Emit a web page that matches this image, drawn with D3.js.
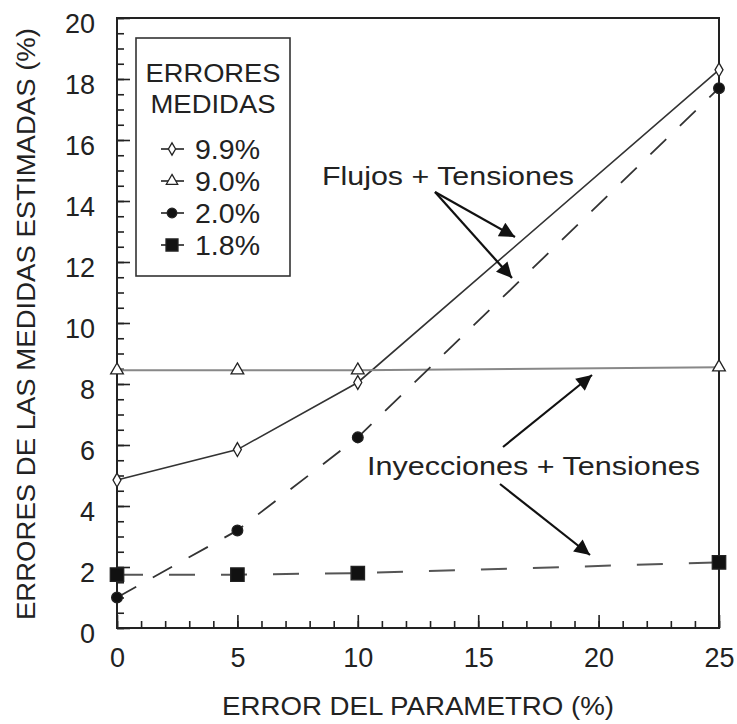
<!DOCTYPE html>
<html>
<head>
<meta charset="utf-8">
<script src="https://cdn.jsdelivr.net/npm/d3@7"></script>
<style>
  body { margin: 0; background: #fff; }
  text { font-family: "Liberation Sans", Arial, Helvetica, sans-serif; fill: #222; }
</style>
</head>
<body>
<script>
// data
const paramError = [0, 5, 10, 25];
const err99 = [4.85, 5.85, 8.05, 18.3];   // 9.9%  Flujos + Tensiones
const err90 = [8.45, 8.45, 8.45, 8.55];   // 9.0%  Inyecciones + Tensiones
const err20 = [1.0, 3.2, 6.25, 17.7];     // 2.0%  Flujos + Tensiones
const err18 = [1.75, 1.75, 1.8, 2.15];    // 1.8%  Inyecciones + Tensiones
const seriesNames = ["9.9%", "9.0%", "2.0%", "1.8%"];
const xTicks = [0, 5, 10, 15, 20, 25];
const yTicks = [0, 2, 4, 6, 8, 10, 12, 14, 16, 18, 20];

const w = 737, h = 724;
const svg = d3.select("body").append("svg")
  .attr("width", w).attr("height", h);

const x = d3.scaleLinear().domain([0, 25]).range([117, 719]);
const y = d3.scaleLinear().domain([0, 20]).range([628, 18]);

// axes, ticks pointing inward
svg.append("g")
  .attr("transform", "translate(0," + y(0) + ")")
  .call(d3.axisBottom(x).tickValues(d3.range(0, 26, 1)).tickFormat("").tickSizeInner(-7).tickSizeOuter(0));
const xAxis = svg.append("g")
  .attr("transform", "translate(0," + y(0) + ")")
  .call(d3.axisBottom(x).tickValues(xTicks).tickSizeInner(-13).tickSizeOuter(0).tickPadding(20));
svg.append("g")
  .attr("transform", "translate(" + x(0) + ",0)")
  .call(d3.axisLeft(y).tickValues(d3.range(0, 20.01, 0.5)).tickFormat("").tickSizeInner(-7).tickSizeOuter(0));
const yAxis = svg.append("g")
  .attr("transform", "translate(" + x(0) + ",0)")
  .call(d3.axisLeft(y).tickValues(yTicks).tickSizeInner(-13).tickSizeOuter(0).tickPadding(22));

svg.selectAll(".tick line").attr("stroke", "#222").attr("stroke-width", 1.6);
svg.selectAll(".domain").remove();
svg.selectAll(".tick text").attr("font-size", 27).style("font-family", "Liberation Sans, Arial, sans-serif").attr("fill", "#222");
yAxis.selectAll(".tick text").attr("dy", "0.55em");

// frame
svg.append("rect")
  .attr("x", x(0)).attr("y", y(20))
  .attr("width", x(25) - x(0)).attr("height", y(0) - y(20))
  .attr("fill", "none").attr("stroke", "#222").attr("stroke-width", 2);

// axis titles
svg.append("text")
  .attr("x", 418).attr("y", 715)
  .attr("text-anchor", "middle").attr("font-size", 26)
  .attr("textLength", 392).attr("lengthAdjust", "spacingAndGlyphs")
  .text("ERROR DEL PARAMETRO (%)");
svg.append("text")
  .attr("transform", "translate(35,324) rotate(-90)")
  .attr("text-anchor", "middle").attr("font-size", 25)
  .attr("textLength", 592).attr("lengthAdjust", "spacingAndGlyphs")
  .text("ERRORES DE LAS MEDIDAS ESTIMADAS (%)");

const line = d3.line().x(d => x(d[0])).y(d => y(d[1]));
const styles = [
  { vals: err99, stroke: "#333", width: 1.6, dash: null, sym: d3.symbolDiamond, size: 55, fill: "#fff" },
  { vals: err90, stroke: "#888", width: 2, dash: null, sym: d3.symbolTriangle, size: 70, fill: "#fff" },
  { vals: err20, stroke: "#333", width: 1.8, dash: "22,19", sym: d3.symbolCircle, size: 90, fill: "#111" },
  { vals: err18, stroke: "#555", width: 2, dash: "26,26", sym: d3.symbolSquare, size: 180, fill: "#111" }
];

styles.forEach(function(s) {
  const pts = paramError.map((p, i) => [p, s.vals[i]]);
  svg.append("path")
    .datum(pts)
    .attr("d", line)
    .attr("fill", "none")
    .attr("stroke", s.stroke)
    .attr("stroke-width", s.width)
    .attr("stroke-dasharray", s.dash);
  svg.selectAll(null)
    .data(pts)
    .enter()
    .append("path")
    .attr("transform", d => "translate(" + x(d[0]) + "," + y(d[1]) + ")")
    .attr("d", d3.symbol().type(s.sym).size(s.size))
    .attr("fill", s.fill)
    .attr("stroke", "#222")
    .attr("stroke-width", 1.3);
});

// legend
const lg = svg.append("g");
lg.append("rect")
  .attr("x", 136).attr("y", 38).attr("width", 154).attr("height", 238)
  .attr("fill", "#fff").attr("stroke", "#333").attr("stroke-width", 1.6);
lg.append("text").attr("x", 213).attr("y", 82).attr("text-anchor", "middle").attr("font-size", 25)
  .attr("textLength", 135).attr("lengthAdjust", "spacingAndGlyphs").text("ERRORES");
lg.append("text").attr("x", 213).attr("y", 113).attr("text-anchor", "middle").attr("font-size", 25)
  .attr("textLength", 125).attr("lengthAdjust", "spacingAndGlyphs").text("MEDIDAS");
styles.forEach(function(s, i) {
  const ly = 149 + i * 32;
  lg.append("line")
    .attr("x1", 161).attr("x2", 184).attr("y1", ly).attr("y2", ly)
    .attr("stroke", "#222").attr("stroke-width", 1.6);
  lg.append("path")
    .attr("transform", "translate(172," + ly + ")")
    .attr("d", d3.symbol().type(s.sym).size(s.size * 0.8))
    .attr("fill", s.fill).attr("stroke", "#222").attr("stroke-width", 1.3);
  lg.append("text")
    .attr("x", 195).attr("y", ly + 10)
    .attr("font-size", 27)
    .attr("textLength", 65).attr("lengthAdjust", "spacingAndGlyphs")
    .text(seriesNames[i]);
});

// annotations with arrows
svg.append("defs").append("marker")
  .attr("id", "head")
  .attr("viewBox", "0 0 10 10")
  .attr("refX", 10).attr("refY", 5)
  .attr("markerWidth", 8).attr("markerHeight", 7)
  .attr("markerUnits", "strokeWidth")
  .attr("orient", "auto")
  .append("path").attr("d", "M0,0L10,5L0,10Z").attr("fill", "#111");

svg.append("text").attr("x", 322).attr("y", 185).attr("font-size", 25)
  .attr("textLength", 252).attr("lengthAdjust", "spacingAndGlyphs").text("Flujos + Tensiones");
svg.append("text").attr("x", 367).attr("y", 475).attr("font-size", 25)
  .attr("textLength", 333).attr("lengthAdjust", "spacingAndGlyphs").text("Inyecciones + Tensiones");

const arrows = [
  [435, 192, 515, 237],
  [435, 192, 512, 278],
  [503, 447, 592, 375],
  [500, 484, 590, 555]
];
svg.selectAll(".arrow")
  .data(arrows)
  .enter()
  .append("line")
  .attr("class", "arrow")
  .attr("x1", d => d[0]).attr("y1", d => d[1])
  .attr("x2", d => d[2]).attr("y2", d => d[3])
  .attr("stroke", "#111").attr("stroke-width", 2.2)
  .attr("marker-end", "url(#head)");
</script>
</body>
</html>
